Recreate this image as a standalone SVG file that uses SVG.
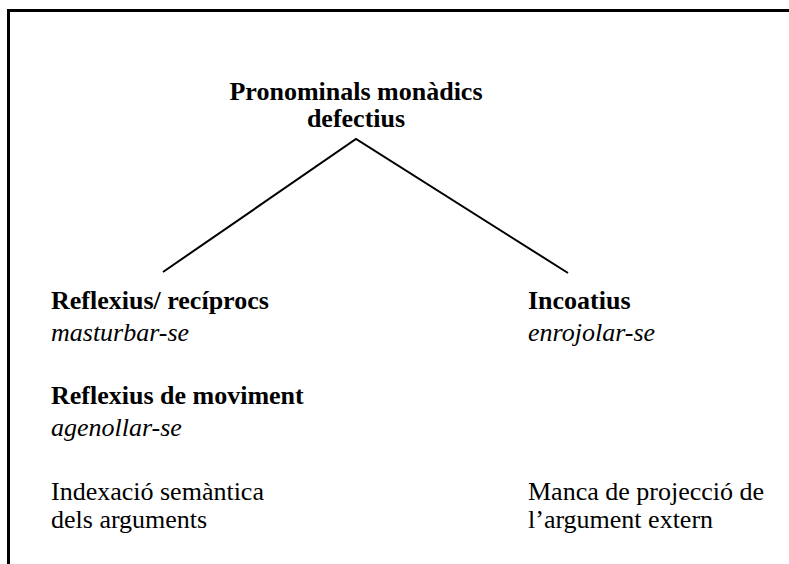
<svg xmlns="http://www.w3.org/2000/svg" width="789" height="564" viewBox="0 0 789 564">
<style>
text{font-family:"Liberation Serif","Times New Roman",serif;font-size:26px;fill:#000}
.b{font-weight:bold}
.i{font-style:italic}
.c{text-anchor:middle}
.ln{stroke:#000;stroke-width:2;fill:none}
</style>
<rect width="789" height="564" fill="#fff"/>
<path d="M8.5,564 V10.5 H789" stroke="#000" stroke-width="3" fill="none"/>
<g id="root"><text class="b c" x="356" y="100">Pronominals monàdics</text><text class="b c" x="356" y="127">defectius</text></g>
<g id="connectors"><path class="ln" d="M163,272 L356,139 L568,273"/></g>
<g id="reflexius"><text class="b" x="51" y="309">Reflexius/ recíprocs</text><text class="i" x="51" y="341">masturbar-se</text></g>
<g id="moviment"><text class="b" x="51" y="404">Reflexius de moviment</text><text class="i" x="51" y="436">agenollar-se</text></g>
<g id="indexacio"><text x="51" y="500">Indexació semàntica</text><text x="51" y="528">dels arguments</text></g>
<g id="incoatius"><text class="b" x="528" y="309">Incoatius</text><text class="i" x="528" y="341">enrojolar-se</text></g>
<g id="manca"><text x="528" y="500">Manca de projecció de</text><text x="528" y="528">l’argument extern</text></g>
</svg>
